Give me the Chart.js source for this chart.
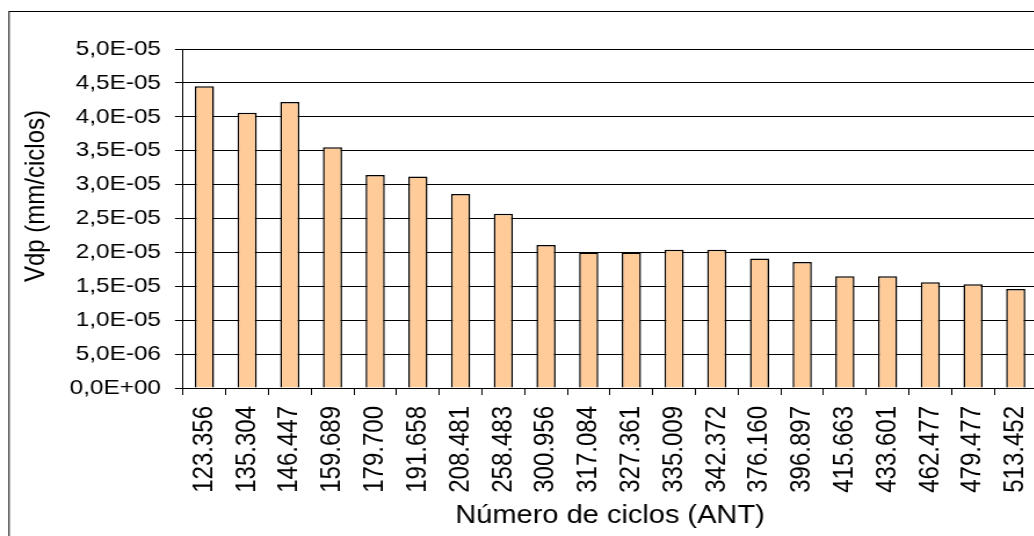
<!DOCTYPE html>
<html>
<head>
<meta charset="utf-8">
<script src="https://cdn.jsdelivr.net/npm/chart.js@4/dist/chart.umd.min.js"></script>
<style>
  html, body { margin: 0; padding: 0; background: #fff; overflow: hidden; width: 1034px; height: 536px; }
  #wrap { width: 920px; height: 536px; transform: scaleX(1.16); transform-origin: 0 0; }
  canvas { display: block; }
</style>
</head>
<body>
<div id="wrap"><canvas id="chart" width="920" height="536"></canvas></div>
<script>
// Number of cycles (ANT) for each measurement
const cycles = ['123.356', '135.304', '146.447', '159.689', '179.700', '191.658', '208.481',
  '258.483', '300.956', '317.084', '327.361', '335.009', '342.372', '376.160', '396.897',
  '415.663', '433.601', '462.477', '479.477', '513.452'];

// Crack growth rate, Vdp (mm/ciclos)
const vdp = [4.45e-5, 4.06e-5, 4.22e-5, 3.55e-5, 3.14e-5, 3.12e-5, 2.86e-5, 2.57e-5, 2.11e-5,
  2.00e-5, 2.00e-5, 2.04e-5, 2.04e-5, 1.91e-5, 1.86e-5, 1.65e-5, 1.65e-5, 1.56e-5, 1.53e-5, 1.46e-5];

// Y axis tick labels, bottom to top
const yTickLabels = ['0,0E+00', '5,0E-06', '1,0E-05', '1,5E-05', '2,0E-05', '2,5E-05',
  '3,0E-05', '3,5E-05', '4,0E-05', '4,5E-05', '5,0E-05'];

const FONT = "'Liberation Sans', Arial, sans-serif";
const yTitle = 'Vdp (mm/ciclos)';
const xTitle = 'Número de ciclos (ANT)';

Chart.defaults.color = '#000';
Chart.defaults.font.family = FONT;

// White background, outer frame and the rotated y-axis title
const frame = {
  id: 'frame',
  beforeDraw(chart) {
    const ctx = chart.ctx;
    ctx.save();
    ctx.fillStyle = '#fff';
    ctx.fillRect(0, 0, chart.width, chart.height);
    ctx.strokeStyle = '#000';
    ctx.lineWidth = 1;
    ctx.strokeRect(7.8, 11.5, chart.width + 50, chart.height + 50);
    ctx.restore();
  },
  afterDraw(chart) {
    const ctx = chart.ctx;
    ctx.save();
    ctx.translate(31, 196);
    ctx.rotate(-Math.PI / 2);
    ctx.font = '24px ' + FONT;
    ctx.fillStyle = '#000';
    ctx.textAlign = 'center';
    ctx.textBaseline = 'middle';
    ctx.fillText(yTitle, 0, 0);
    ctx.restore();
  }
};

new Chart(document.getElementById('chart'), {
  type: 'bar',
  data: {
    labels: cycles,
    datasets: [{
      data: vdp,
      backgroundColor: '#FFCC99',
      borderColor: '#000',
      borderWidth: 1.5,
      barPercentage: 0.9,
      categoryPercentage: 0.5
    }]
  },
  options: {
    responsive: false,
    animation: false,
    layout: { padding: { left: 0, top: 49, right: 26, bottom: 0 } },
    plugins: { legend: { display: false }, tooltip: { enabled: false } },
    scales: {
      x: {
        offset: true,
        grid: { offset: true, drawOnChartArea: false, drawTicks: true, tickLength: 7, color: '#000' },
        border: { display: true, color: '#000', width: 1 },
        ticks: {
          autoSkip: false,
          minRotation: 90,
          maxRotation: 90,
          padding: 11,
          font: { size: 24 }
        },
        title: {
          display: true,
          text: xTitle,
          font: { size: 25 },
          padding: { top: 0, bottom: 5 }
        },
        afterFit(scale) { scale.height = 148; }
      },
      y: {
        min: 0,
        max: 5e-5,
        ticks: {
          stepSize: 5e-6,
          padding: 12,
          font: { size: 21 },
          callback: (v, i) => yTickLabels[i]
        },
        grid: { color: '#000', lineWidth: 1, drawTicks: true, tickLength: 7 },
        border: { display: true, color: '#000', width: 1 },
        afterFit(scale) { scale.width = 157.8; }
      }
    }
  },
  plugins: [frame]
});
</script>
</body>
</html>
